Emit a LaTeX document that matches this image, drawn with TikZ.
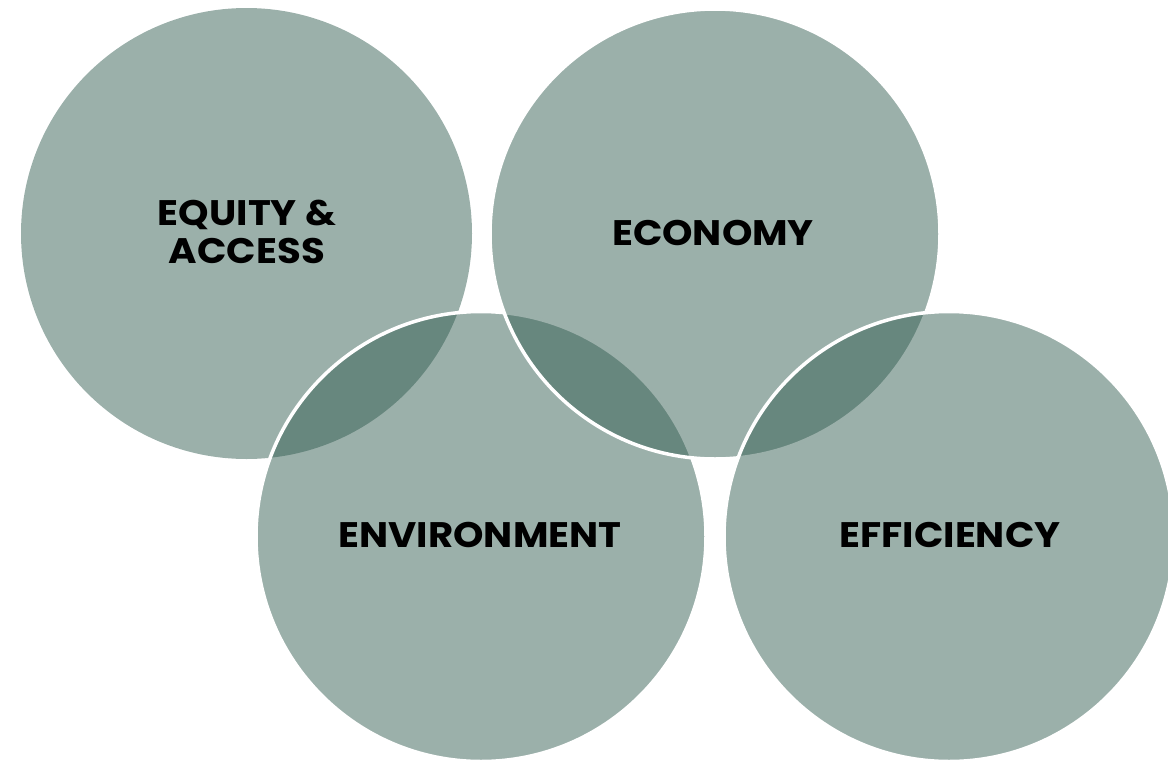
\documentclass[tikz,border=0pt]{standalone}
\usepackage{fontspec}
\setmainfont{Poppins}[FakeStretch=1.09]
\definecolor{circfill}{RGB}{47,90,78}
\tikzset{
  venn/.style={fill=circfill, fill opacity=0.48, draw=white, draw opacity=1, line width=3.5pt},
  venn1/.style={fill=circfill, fill opacity=0.48, draw=none},
  lbl/.style={font=\fontsize{35.5}{38}\selectfont\bfseries, text=black, align=center, inner sep=0pt}
}
\begin{document}
\begin{tikzpicture}[x=1pt,y=-1pt]
\useasboundingbox (0,0) rectangle (1168,761);
\begin{scope}
\clip (0,0) rectangle (1168,761);
\path[venn1] (246.5,233.5) circle (225.5pt);
\path[venn] (481,536.5) circle (225pt);
\path[venn] (715,234) circle (225pt);
\path[venn] (949,536.5) circle (225pt);
\end{scope}
\node[lbl] (equity) at (247,232) {EQUITY \&\\ACCESS};
\node[lbl] (economy) at (713,232.5) {ECONOMY};
\node[lbl] (environment) at (480,535) {ENVIRONMENT};
\node[lbl] (efficiency) at (950,535) {EFFICIENCY};
\end{tikzpicture}
\end{document}
